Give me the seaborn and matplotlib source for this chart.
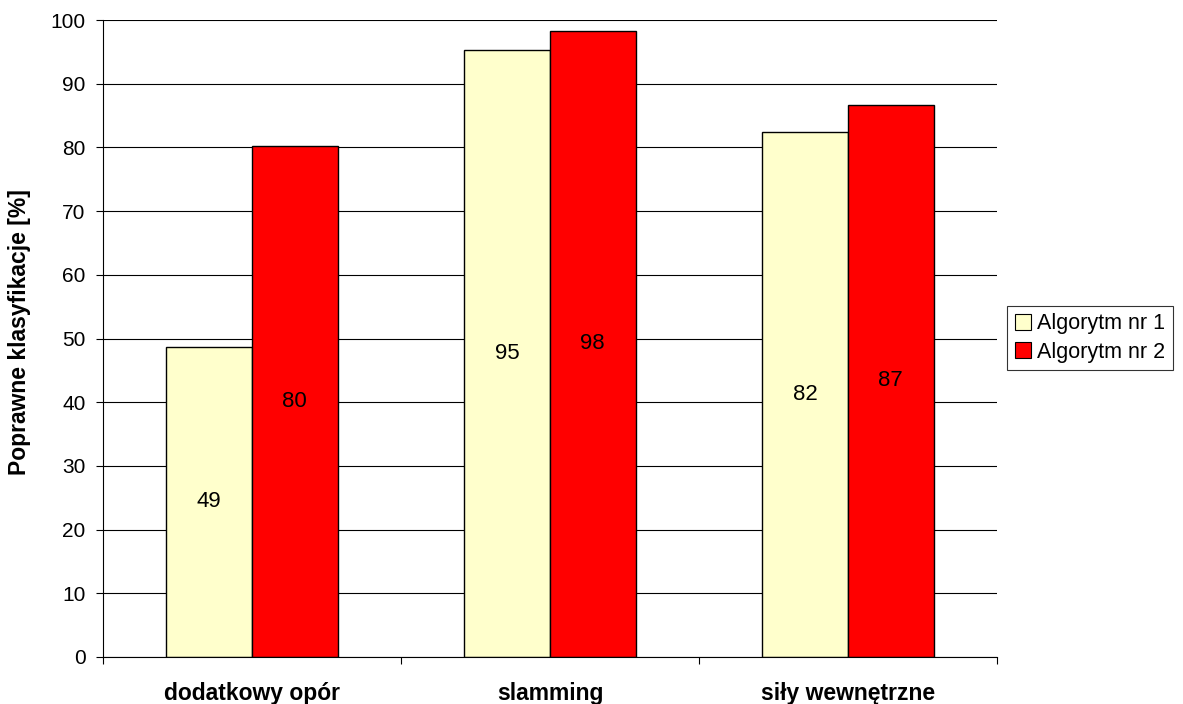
import matplotlib
matplotlib.use("Agg")
import matplotlib.pyplot as plt
import seaborn as sns
import pandas as pd
from matplotlib.patches import Patch

categories = ["dodatkowy opór", "slamming", "siły wewnętrzne"]
series = ["Algorytm nr 1", "Algorytm nr 2"]
alg1 = [48.7, 95.3, 82.4]
alg2 = [80.2, 98.3, 86.7]
colors = ["#FFFFCC", "#FF0000"]

df = pd.DataFrame({
    "cat": categories * 2,
    "series": [series[0]] * 3 + [series[1]] * 3,
    "val": alg1 + alg2,
})

sns.set_theme(style="white")
plt.rcParams["font.family"] = ["Liberation Sans", "DejaVu Sans"]
plt.rcParams["text.color"] = "black"
plt.rcParams["axes.labelcolor"] = "black"
plt.rcParams["xtick.color"] = "black"
plt.rcParams["ytick.color"] = "black"

fig = plt.figure(figsize=(11.83, 7.04), dpi=100)
ax = fig.add_axes([103/1183, 47/704, (997-103)/1183, (657-20)/704])

sns.barplot(data=df, x="cat", y="val", hue="series", palette=colors,
            width=0.574, edgecolor="black", linewidth=1.0, ax=ax,
            legend=False, saturation=1, errorbar=None)

ax.set_ylim(0, 100)
ax.set_xlim(-0.5, 2.5)
ax.set_yticks(range(0, 101, 10))
ax.yaxis.grid(True, color="black", linewidth=0.8)
ax.set_axisbelow(True)
for s in ["top", "right"]:
    ax.spines[s].set_visible(False)
for s in ["left", "bottom"]:
    ax.spines[s].set_color("black")
    ax.spines[s].set_linewidth(0.8)

ax.tick_params(axis="y", which="major", direction="out", length=5, width=0.8,
               color="black", labelcolor="black", labelsize=15, pad=7.5, left=True)
ax.set_xticks([0, 1, 2])
ax.set_xticklabels(categories, fontsize=16.5, fontweight="bold", color="black")
ax.tick_params(axis="x", which="major", length=0, pad=18)
ax.set_xticks([-0.5, 0.5, 1.5, 2.5], minor=True)
ax.tick_params(axis="x", which="minor", direction="out", length=5, width=0.8,
               color="black", bottom=True)

ax.set_xlabel("")
ax.set_ylabel("Poprawne klasyfikacje [%]", fontsize=16.5, fontweight="bold",
              color="black")
ax.yaxis.set_label_coords(-0.0805, 0.51)

for cont in ax.containers:
    ax.bar_label(cont, labels=[f"{v:.0f}" for v in cont.datavalues],
                 label_type="center", fontsize=16, color="black")

handles = [Patch(facecolor=c, edgecolor="black", linewidth=0.8) for c in colors]
leg = fig.legend(handles, series, loc="center left",
                 bbox_to_anchor=(1007/1183, 1 - 338/704), fontsize=15.5,
                 frameon=True, fancybox=False, edgecolor="black",
                 handlelength=0.75, handleheight=0.75, handletextpad=0.3,
                 borderpad=0.35, labelspacing=0.35, borderaxespad=0)
leg.get_frame().set_linewidth(0.8)
for t in leg.get_texts():
    t.set_color("black")

fig.savefig("out.png", dpi=100)
